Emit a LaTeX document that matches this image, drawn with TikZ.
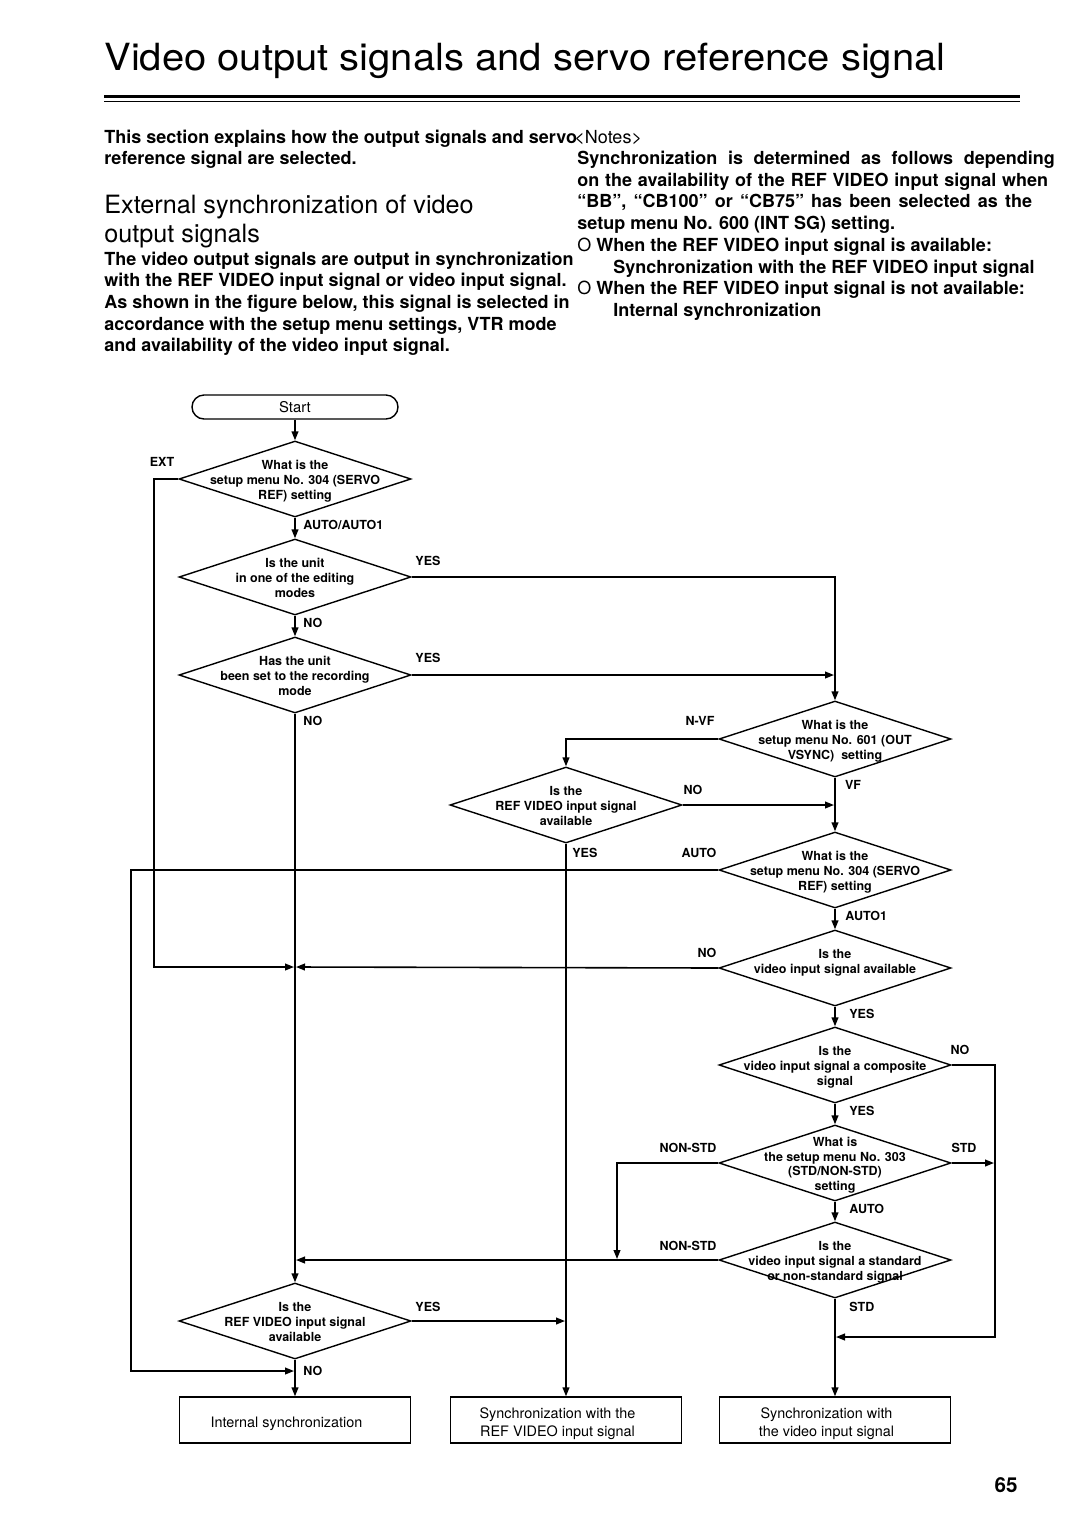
\documentclass[tikz,border=0pt]{standalone}
\usepackage{fontspec}
\setmainfont{TeX Gyre Heros}
\usetikzlibrary{shapes.geometric,arrows.meta}

\tikzset{
    dec/.style={diamond, draw, line width=0.7pt, minimum width=116pt, minimum height=38pt, inner sep=0pt, font=\fontsize{6.25}{7.3}\selectfont\bfseries},
    endbox/.style={draw, line width=0.7pt, minimum width=115.5pt, minimum height=23pt, inner sep=0pt, font=\fontsize{7.2}{9}\selectfont},
    startbox/.style={draw, line width=0.7pt, rounded corners=6pt, minimum width=103pt, minimum height=12pt, inner sep=0pt, font=\fontsize{7.4}{9}\selectfont},
    flow/.style={line width=0.8pt},
    arr/.style={flow, -{Triangle[length=4.5pt,width=3.4pt]}},
    lab/.style={inner sep=0pt, font=\fontsize{6.25}{7.3}\selectfont\bfseries},
    body/.style={inner sep=0pt, anchor=base west, align=left, font=\fontsize{9}{10.85}\selectfont\bfseries}
}

\newcommand{\dtext}[1]{\makebox[0pt]{\smash{\raisebox{-2.8pt}{\begin{tabular}{@{}c@{}}#1\end{tabular}}}}}
\newcommand{\etext}[1]{\smash{\raisebox{-3.5pt}{\begin{tabular}{@{}c@{}}#1\end{tabular}}}\kern8.5pt}

\begin{document}
\begin{tikzpicture}[x=0.5pt,y=-0.5pt]
        \fill[white] (0,0) rectangle (1080,1528);
        \useasboundingbox (0,0) rectangle (1080,1528);

        \node[anchor=base west, inner sep=0pt] (title) at (104,70.7)
            {\resizebox{420.5pt}{13.7pt}{\fontsize{20}{24}\selectfont Video output signals and servo reference signal}};
        \draw[line width=1.7pt] (104,96.7) -- (1020,96.7);
        \draw[line width=0.5pt] (104,101.8) -- (1020,101.8);

        \node[body] (intro) at (104,164.7) {This section explains how the output signals and servo\\reference signal are selected.};
        \node[anchor=base west, inner sep=0pt, align=left, font=\fontsize{12.6}{14.5}\selectfont] (subhead) at (104,242)
            {External synchronization of video\\output signals};
        \node[body] (para) at (104,351.8) {The video output signals are output in synchronization\\with the REF VIDEO input signal or video input signal.\\As shown in the figure below, this signal is selected in\\accordance with the setup menu settings, VTR mode\\and availability of the video input signal.};
        \node[anchor=base west, inner sep=0pt, font=\fontsize{9}{10.85}\selectfont] (notes) at (574,143) {<Notes>};
        \node[body] (notetext) at (577,316.4) {{\spaceskip=5.3pt Synchronization is determined as follows depending}\\{\spaceskip=2.9pt on the availability of the REF VIDEO input signal when}\\{\spaceskip=3.6pt “BB”, “CB100” or “CB75” has been selected as the}\\setup menu No. 600 (INT SG) setting.\\{\mdseries O} When the REF VIDEO input signal is available:\\\hspace*{18pt}Synchronization with the REF VIDEO input signal\\{\mdseries O} When the REF VIDEO input signal is not available:\\\hspace*{18pt}Internal synchronization};
        \node[anchor=base east, inner sep=0pt, font=\fontsize{10.3}{12}\selectfont\bfseries] (page) at (1018,1492) {65};

        \node[startbox] (start) at (295,407) {Start};
        \node[dec] (d1) at (295,479) {\dtext{What is the\\setup menu No. 304 (SERVO\\REF) setting}};
        \node[dec] (d2) at (295,577) {\dtext{Is the unit\\in one of the editing\\modes}};
        \node[dec] (d3) at (295,675) {\dtext{Has the unit\\been set to the recording\\mode}};
        \node[dec] (d4) at (835,739) {\dtext{What is the\\setup menu No. 601 (OUT\\VSYNC)\ \ setting}};
        \node[dec] (d5) at (566,805) {\dtext{Is the\\REF VIDEO input signal\\available}};
        \node[dec] (d6) at (835,870) {\dtext{What is the\\setup menu No. 304 (SERVO\\REF) setting}};
        \node[dec] (d7) at (835,968) {\dtext{Is the\\video input signal available\\\mbox{}}};
        \node[dec] (d8) at (835,1065) {\dtext{Is the\\video input signal a composite\\signal}};
        \node[dec] (d9) at (835,1163) {\dtext{What is\\the setup menu No. 303\\(STD/NON-STD)\\setting}};
        \node[dec] (d10) at (835,1260) {\dtext{Is the\\video input signal a standard\\or non-standard signal}};
        \node[dec] (d11) at (295,1321) {\dtext{Is the\\REF VIDEO input signal\\available}};
        \node[endbox] (b1) at (295,1420) {\etext{Internal synchronization}};
        \node[endbox] (b2) at (566,1420) {\etext{Synchronization with the\\REF VIDEO input signal}};
        \node[endbox] (b3) at (835,1420) {\etext{Synchronization with\\the video input signal}};

        \coordinate (ext) at (154,0);
        \coordinate (lft) at (131,0);
        \coordinate (rgt) at (995,0);
        \coordinate (m1w) at (294,967);
        \coordinate (m1e) at (296,967);
        \coordinate (m2) at (296,1260);
        \coordinate (m3) at (294,1371);
        \coordinate (m4) at (565,1321);
        \coordinate (m5) at (834,675);
        \coordinate (m6) at (834,805);
        \coordinate (m7) at (836,1337);
        \coordinate (m8) at (994,1163);
        \coordinate (m9) at (617,1259);

        \draw[arr] (start.south) -- (d1.north);
        \draw[arr] (d1.south) -- (d2.north);
        \draw[arr] (d2.south) -- (d3.north);
        \draw[arr] (d3.south) -- (d11.north);
        \draw[arr] (d11.south) -- (b1.north);
        \draw[arr] (d1.west) -- (d1.west -| ext) |- (m1w);
        \draw[arr] (d2.east) -| (d4.north);
        \draw[arr] (d3.east) -- (m5);
        \draw[arr] (d4.west) -| (d5.north);
        \draw[arr] (d4.south) -- (d6.north);
        \draw[arr] (d5.east) -- (m6);
        \draw[arr] (d5.south) -- (b2.north);
        \draw[arr] (d6.west) -- (d6.west -| lft) |- (m3);
        \draw[arr] (d6.south) -- (d7.north);
        \draw[arr] (d7.west) -- (m1e);
        \draw[arr] (d7.south) -- (d8.north);
        \draw[arr] (d8.east) -- (d8.east -| rgt) |- (m7);
        \draw[arr] (d8.south) -- (d9.north);
        \draw[arr] (d9.west) -| (m9);
        \draw[arr] (d9.east) -- (m8);
        \draw[arr] (d9.south) -- (d10.north);
        \draw[arr] (d10.west) -- (m2);
        \draw[arr] (d10.south) -- (b3.north);
        \draw[arr] (d11.east) -- (m4);

        \foreach \x/\y/\t [count=\i] in {162/462/EXT, 428/560.5/YES, 428/658/YES, 700/721/N-VF, 853/785/VF,
            693/790/NO, 699/853/AUTO, 707/953/NO, 960/1050/NO, 688/1148/NON-STD, 964/1148/STD,
            688/1246/NON-STD, 428/1307/YES}
            \node[lab] (lc\i) at (\x,\y) {\t};

        \foreach \x/\y/\t [count=\i] in {303/525/{AUTO/AUTO1}, 303/623/NO, 303/721/NO, 572/853/YES, 845/916/AUTO1,
            849/1014/YES, 849/1111/YES, 849/1209/AUTO, 849/1307/STD, 303/1371/NO}
            \node[lab, anchor=west] (lw\i) at (\x,\y) {\t};
\end{tikzpicture}
\end{document}
